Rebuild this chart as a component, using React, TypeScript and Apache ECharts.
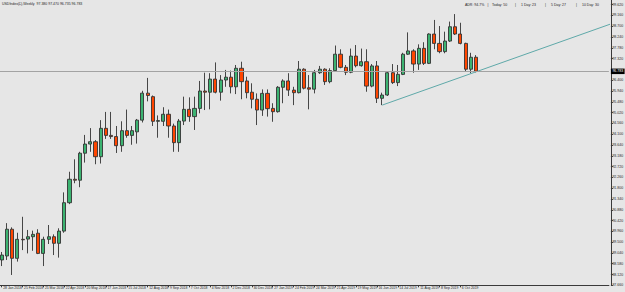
import React, { useEffect, useRef } from "react";
import * as echarts from "echarts";

// ---- data (weekly bars, first bar = week of 28 Jan 2018) ----
const START_YEAR = 2018;
const START_MONTH = 0; // January
const START_DAY = 28;
const MONTHS = ["Jan", "Feb", "Mar", "Apr", "May", "Jun", "Jul", "Aug", "Sep", "Oct", "Nov", "Dec"];

const OPEN = [
  88.74, 88.91, 90.05, 88.81, 89.62, 89.63, 89.73, 89.88, 89.02, 89.62,
  89.73, 89.45, 89.97, 91.18, 92.18, 92.14, 93.29, 93.68, 93.78, 93.14,
  94.35, 94.05, 94.0, 93.61, 94.25, 94.05, 94.2, 94.7, 95.85, 95.7,
  94.65, 94.65, 94.95, 94.45, 93.74, 94.66, 95.16, 94.85, 95.2, 95.94,
  95.89, 96.45, 95.89, 96.41, 96.53, 96.12, 96.91, 96.37, 95.89, 95.59,
  95.13, 95.84, 95.2, 95.06, 96.1, 96.37, 95.98, 95.87, 96.87, 96.08,
  96.02, 96.72, 96.87, 96.34, 96.81, 97.51, 96.95, 96.74, 97.43, 97.02,
  97.19, 96.15, 97.01, 95.63, 95.77, 96.72, 96.3, 96.65, 97.51, 97.65,
  97.09, 97.76, 97.12, 98.37, 97.97, 97.62, 98.07, 98.68, 98.37, 97.97,
  96.87, 97.38,
];
const HIGH = [
  89.08, 90.31, 90.13, 89.9, 90.58, 90.02, 89.99, 90.05, 89.73, 90.23,
  89.83, 90.09, 91.62, 92.5, 93.03, 93.35, 94.07, 94.36, 93.85, 94.7,
  95.05, 95.05, 94.45, 94.65, 95.15, 94.45, 94.75, 95.95, 96.5, 95.75,
  94.9, 95.25, 95.15, 94.55, 94.75, 95.7, 95.67, 95.7, 96.37, 96.72,
  96.7, 97.16, 96.62, 96.84, 96.81, 97.05, 97.19, 96.55, 96.27, 95.84,
  96.01, 96.01, 95.42, 96.15, 96.44, 96.7, 96.12, 97.22, 96.91, 96.62,
  96.84, 97.01, 96.91, 96.91, 97.88, 97.72, 97.05, 97.75, 97.9, 97.75,
  97.72, 97.09, 97.22, 95.87, 96.76, 97.09, 97.05, 97.57, 98.44, 97.72,
  97.93, 98.02, 98.4, 98.97, 98.71, 98.47, 98.9, 99.22, 98.85, 98.0,
  97.57, 97.47,
];
const LOW = [
  88.48, 88.74, 88.1, 88.67, 89.16, 89.02, 89.13, 88.99, 88.48, 89.42,
  88.95, 88.84, 89.9, 91.12, 92.01, 91.84, 92.89, 93.35, 92.82, 92.85,
  93.9, 93.9, 93.3, 93.35, 93.95, 93.65, 93.7, 94.6, 95.5, 94.45,
  93.95, 94.45, 93.95, 93.35, 93.35, 94.49, 94.63, 94.28, 94.99, 95.13,
  95.16, 95.84, 95.53, 96.12, 95.84, 95.81, 95.59, 95.63, 95.2, 94.49,
  94.88, 94.85, 94.63, 95.02, 95.42, 95.73, 95.34, 95.84, 96.01, 95.16,
  95.84, 96.67, 96.2, 96.27, 96.76, 96.91, 96.62, 96.7, 96.95, 96.98,
  95.91, 96.1, 95.43, 95.34, 95.73, 96.24, 96.15, 96.62, 97.48, 96.72,
  96.84, 97.05, 97.09, 97.72, 97.55, 97.55, 98.03, 98.33, 97.93, 96.76,
  96.7, 96.735,
];
const CLOSE = [
  88.95, 90.05, 88.81, 89.62, 89.6, 89.73, 89.83, 89.02, 89.62, 89.73,
  89.45, 89.97, 91.18, 92.18, 92.14, 93.29, 93.68, 93.78, 93.14, 94.35,
  94.05, 94.0, 93.61, 94.25, 94.05, 94.25, 94.7, 95.85, 95.75, 94.65,
  94.68, 94.95, 94.45, 93.74, 94.66, 95.16, 94.85, 95.2, 95.94, 95.89,
  96.45, 95.89, 96.41, 96.53, 96.12, 96.91, 96.34, 95.87, 95.59, 95.13,
  95.84, 95.19, 95.06, 96.1, 96.37, 95.98, 95.87, 96.87, 96.06, 96.02,
  96.72, 96.87, 96.34, 96.81, 97.51, 96.95, 96.74, 97.43, 97.02, 97.19,
  96.15, 97.01, 95.63, 95.77, 96.72, 96.3, 96.65, 97.51, 97.65, 97.09,
  97.76, 97.12, 98.37, 97.97, 97.62, 98.07, 98.68, 98.37, 97.97, 96.87,
  97.38, 96.783,
];

const TOTAL_SLOTS = 117; // weekly slots shown, including empty space on the right
const LABEL_EVERY = 4; // a date label every 4 weeks

const Y_TICK_START = 87.66;
const Y_TICK_STEP = 0.46;
const Y_MAX = 99.82;

const LAST_PRICE = 96.783;
const TREND_START = [73, 95.34];
const TREND_END = [117, 98.81];

const TITLE = "USDIndex(£),Weekly  97.380 97.470 96.735 96.783";
const INFO_ITEMS = ["ADR: 94.7%", "Today: 50", "1 Day: 23", "5 Day: 27", "10 Day: 30"];

// ---- helpers ----
function weekLabel(i: number): string {
  const d = new Date(Date.UTC(START_YEAR, START_MONTH, START_DAY) + i * 7 * 86400000);
  return `${d.getUTCDate()} ${MONTHS[d.getUTCMonth()]} ${d.getUTCFullYear()}`;
}

const categories = Array.from({ length: TOTAL_SLOTS }, (_, i) => weekLabel(i));
const candleData = OPEN.map((o, i) => [o, CLOSE[i], LOW[i], HIGH[i]]);
const showDateAt = (i: number) => i % LABEL_EVERY === 0 && i < OPEN.length;

const FONT = "Liberation Sans";
const TXT = "#1e1e1e";
const AXIS = "#3a3a3a";
const SMALL = 3.5;

// layout of the info strip (top right)
const INFO_X = [465, 492, 521, 551, 582];
const SEP_X = [487.5, 515, 545, 576];

export default function App() {
  const ref = useRef<HTMLDivElement>(null);

  useEffect(() => {
    if (!ref.current) return;
    const chart = echarts.init(ref.current, null, { renderer: "svg" });

    const infoGraphics: any[] = INFO_ITEMS.map((t, k) => ({
      type: "text",
      x: INFO_X[k],
      y: 3,
      style: { text: t, fontSize: SMALL, fill: TXT, fontFamily: FONT },
    }));
    SEP_X.forEach((x) =>
      infoGraphics.push({
        type: "text",
        x,
        y: 3,
        style: { text: "|", fontSize: SMALL, fill: TXT, fontFamily: FONT },
      })
    );

    const option: any = {
      animation: false,
      backgroundColor: "#e6e6e6",
      textStyle: { fontFamily: FONT },
      grid: {
        left: -0.9,
        right: 16.1,
        top: 0,
        bottom: 6.7,
        containLabel: false,
        outerBoundsMode: "none",
      },
      xAxis: {
        type: "category",
        data: categories,
        boundaryGap: true,
        axisLine: { show: true, lineStyle: { color: AXIS, width: 1 } },
        axisTick: {
          show: true,
          alignWithLabel: true,
          interval: (i: number) => showDateAt(i),
          length: 2,
          lineStyle: { color: AXIS },
        },
        axisLabel: {
          show: true,
          interval: (i: number) => showDateAt(i),
          align: "left",
          margin: 1.2,
          padding: [0, 0, 0, 1.5],
          fontSize: 3.4,
          color: TXT,
          fontFamily: FONT,
          hideOverlap: false,
        },
        splitLine: { show: false },
      },
      yAxis: {
        type: "value",
        position: "right",
        offset: 2,
        min: Y_TICK_START,
        max: Y_MAX,
        interval: Y_TICK_STEP,
        scale: true,
        axisLine: { show: true, lineStyle: { color: AXIS, width: 1 } },
        axisTick: { show: true, length: 2, lineStyle: { color: AXIS } },
        axisLabel: {
          show: true,
          showMaxLabel: false,
          margin: 1.5,
          fontSize: SMALL,
          color: TXT,
          fontFamily: FONT,
          formatter: (v: number) =>
            v > Y_MAX - 0.1 || Math.abs(v - LAST_PRICE) < 0.2 ? "" : v.toFixed(3),
        },
        splitLine: { show: false },
      },
      series: [
        {
          type: "candlestick",
          data: candleData,
          barWidth: 3.6,
          itemStyle: {
            color: "#3cb371",
            color0: "#ff4500",
            borderColor: "#333333",
            borderColor0: "#333333",
            borderWidth: 0.9,
          },
          markLine: {
            silent: true,
            symbol: ["none", "none"],
            lineStyle: { color: "#a3a3a3", type: "solid", width: 1 },
            label: {
              show: true,
              position: "end",
              distance: 2,
              formatter: LAST_PRICE.toFixed(3),
              color: "#ffffff",
              backgroundColor: "#000000",
              padding: [1, 1.5, 0.5, 1.5],
              fontSize: SMALL,
              fontFamily: FONT,
            },
            data: [{ yAxis: LAST_PRICE }],
          },
        },
        {
          type: "line",
          data: [TREND_START, TREND_END],
          showSymbol: false,
          symbol: "none",
          clip: true,
          lineStyle: { color: "#5fa9a9", width: 1 },
          z: 3,
        },
      ],
      graphic: [
        {
          type: "text",
          x: 2,
          y: 1.5,
          style: { text: TITLE, fontSize: SMALL, fill: TXT, fontFamily: FONT },
        },
        ...infoGraphics,
      ],
    };
    chart.setOption(option);
    return () => chart.dispose();
  }, []);

  return (
    <div
      ref={ref}
      style={{ position: "fixed", left: 0, top: 0, width: 625, height: 292 }}
    />
  );
}
